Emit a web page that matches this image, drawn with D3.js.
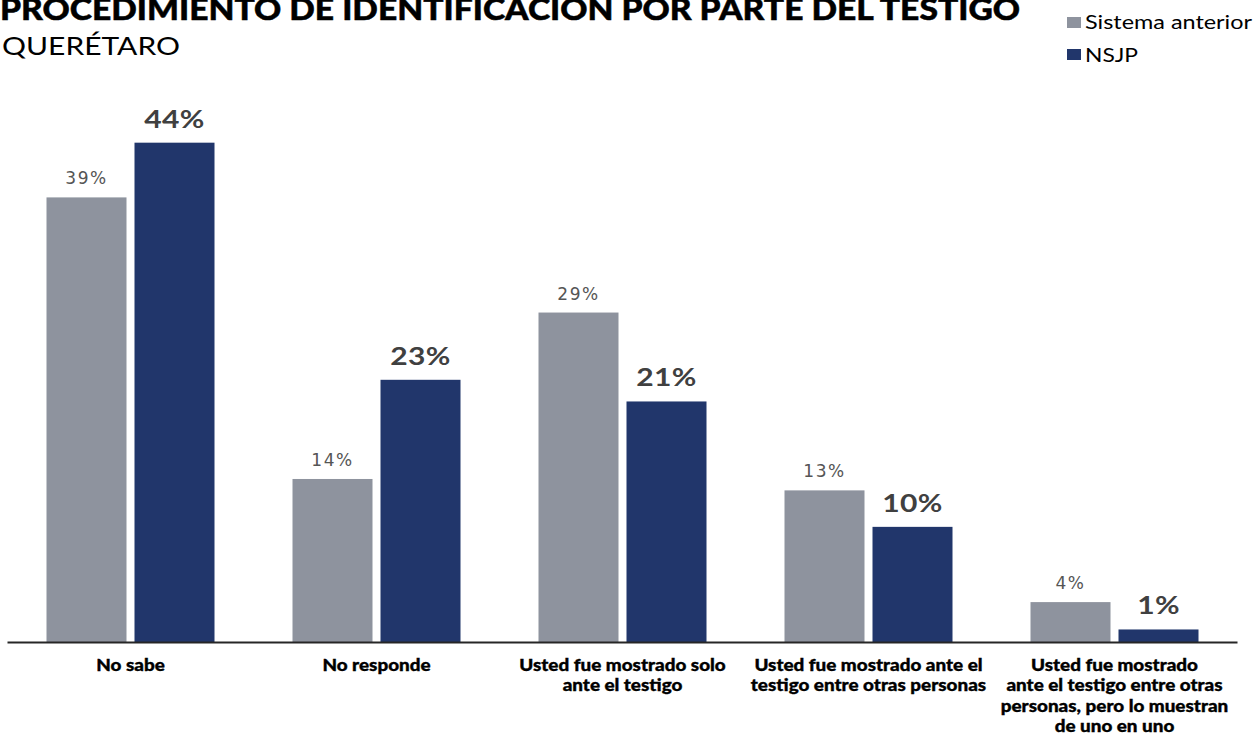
<!DOCTYPE html>
<html><head><meta charset="utf-8">
<script src="https://cdn.jsdelivr.net/npm/d3@7"></script>
<style>
html,body{margin:0;padding:0;background:#fff;}
svg{display:block;}
</style></head>
<body>
<svg id="c" width="1256" height="736"></svg>
<script>
const categories = [
  ["No sabe"],
  ["No responde"],
  ["Usted fue mostrado solo", "ante el testigo"],
  ["Usted fue mostrado ante el", "testigo entre otras personas"],
  ["Usted fue mostrado", "ante el testigo entre otras", "personas, pero lo muestran", "de uno en uno"]
];
const seriesNames = ["Sistema anterior", "NSJP"];
const sistemaAnterior = [39.0, 14.3, 28.9, 13.3, 3.5];
const nsjp = [43.8, 23.0, 21.1, 10.1, 1.1];
const sistemaLabels = ["39%", "14%", "29%", "13%", "4%"];
const nsjpLabels = ["44%", "23%", "21%", "10%", "1%"];
const colors = ["#8e939e", "#21366b"];

const svg = d3.select("#c");
const baseY = 642;
const x0 = d3.scaleBand().domain(d3.range(categories.length)).range([7.5, 1237.5]).paddingInner(0).paddingOuter(0);
const x1 = d3.scaleBand().domain([0, 1]).range([39, 246 - 39]).paddingInner(0.0909);
const y = d3.scaleLinear().domain([0, 50]).range([baseY, baseY - 570]);

const data = categories.map((c, i) => ({
  i, vals: [sistemaAnterior[i], nsjp[i]], labs: [sistemaLabels[i], nsjpLabels[i]]
}));

const g = svg.append("g");
const groups = g.selectAll("g.grp").data(data).enter().append("g")
  .attr("transform", d => `translate(${x0(d.i)},0)`);

groups.selectAll("rect").data(d => d.vals.map((v, s) => ({v, s}))).enter().append("rect")
  .attr("x", d => x1(d.s)).attr("width", x1.bandwidth())
  .attr("y", d => y(d.v)).attr("height", d => baseY - y(d.v))
  .attr("fill", d => colors[d.s]);

groups.selectAll("text.val").data(d => d.vals.map((v, s) => ({v, s, l: d.labs[s]}))).enter().append("text")
  .attr("class", "val")
  .attr("transform", d => `translate(${x1(d.s) + x1.bandwidth() / 2},${y(d.v) - (d.s === 0 ? 13 : 15)}) scale(${d.s === 0 ? 1 : 1.2},1)`)
  .attr("text-anchor", "middle")
  .attr("font-family", d => d.s === 0 ? "DejaVu Sans" : "Lato")
  .attr("font-weight", d => d.s === 0 ? 400 : 700)
  .attr("font-size", d => d.s === 0 ? 17 : 25)
  .attr("letter-spacing", d => d.s === 0 ? 1.5 : 0.3)
  .attr("fill", d => d.s === 0 ? "#555" : "#404040")
  .text(d => d.l);

// axis line
g.append("line").attr("x1", x0.range()[0]).attr("x2", x0.range()[1])
  .attr("y1", baseY + 0.5).attr("y2", baseY + 0.5)
  .attr("stroke", "#262626").attr("stroke-width", 2);

// category labels
const cl = g.selectAll("text.cat").data(categories).enter().append("text")
  .attr("class", "cat")
  .attr("transform", (d, i) => `translate(${x0(i) + x0.bandwidth() / 2},671) scale(1.11,1)`)
  .attr("text-anchor", "middle")
  .attr("font-family", "Lato").attr("font-weight", 900).attr("font-size", 17)
  .attr("fill", "#000").attr("stroke", "#000").attr("stroke-width", 0.35);
cl.selectAll("tspan").data(d => d).enter().append("tspan")
  .attr("x", 0)
  .attr("dy", (d, i) => i === 0 ? 0 : 20.5)
  .text(d => d);

// title
svg.append("text").attr("x", 0).attr("y", 20)
  .attr("font-family", "Lato").attr("font-weight", 900).attr("font-size", 31)
  .attr("textLength", 1020).attr("lengthAdjust", "spacingAndGlyphs")
  .attr("fill", "#000").attr("stroke", "#000").attr("stroke-width", 0.5)
  .text("PROCEDIMIENTO DE IDENTIFICACION POR PARTE DEL TESTIGO");
svg.append("text").attr("x", 2).attr("y", 55)
  .attr("font-family", "Lato").attr("font-weight", 400).attr("font-size", 25)
  .attr("textLength", 178).attr("lengthAdjust", "spacingAndGlyphs")
  .attr("fill", "#000").text("QUERÉTARO");

// legend
const legLen = [167, 53];
const leg = svg.append("g");
seriesNames.forEach((n, i) => {
  leg.append("rect").attr("x", 1067).attr("y", 17 + i * 32).attr("width", 14).attr("height", 11).attr("fill", colors[i]);
  leg.append("text").attr("x", 1085).attr("y", 28.5 + i * 33)
    .attr("font-family", "Lato").attr("font-size", 19.5)
    .attr("textLength", legLen[i]).attr("lengthAdjust", "spacingAndGlyphs")
    .attr("fill", "#000").text(n);
});
</script>
</body></html>
